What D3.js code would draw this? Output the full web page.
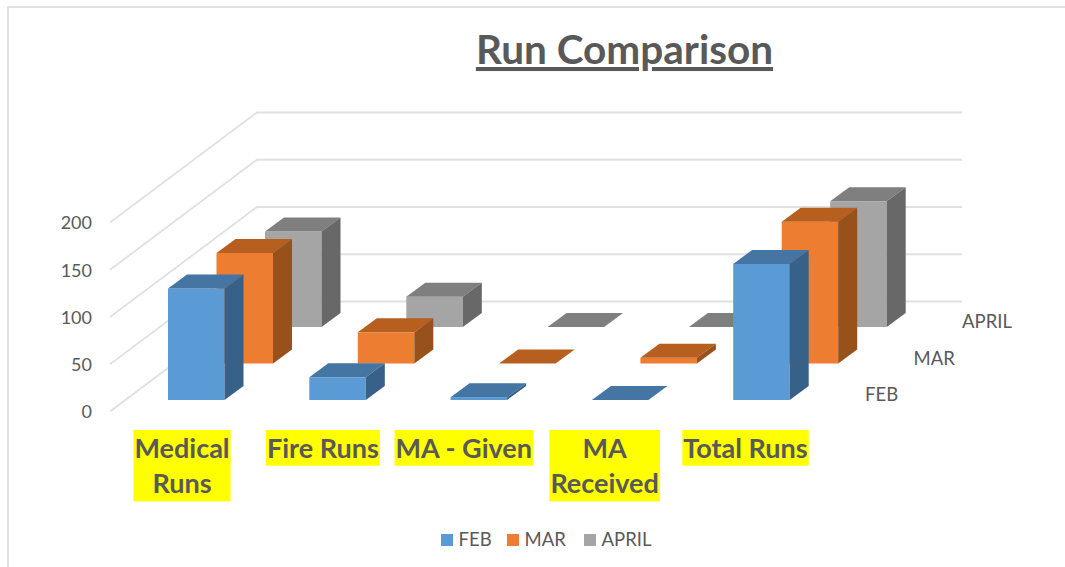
<!DOCTYPE html>
<html>
<head>
<meta charset="utf-8">
<script src="https://cdn.jsdelivr.net/npm/d3@7"></script>
<style>
body { margin: 0; background: #fff; }
text { font-family: Lato, "Open Sans", sans-serif; fill: #595959; }
</style>
</head>
<body>
<script>
var categories = ["Medical Runs", "Fire Runs", "MA - Given", "MA Received", "Total Runs"]
var categoryLines = [["Medical", "Runs"], ["Fire Runs"], ["MA - Given"], ["MA", "Received"], ["Total Runs"]]
var seriesNames = ["FEB", "MAR", "APRIL"]
var feb = [118, 24, 3, 0, 144]
var mar = [117, 33, 0, 6, 150]
var april = [101, 32, 0, 0, 133]
var yTicks = [0, 50, 100, 150, 200]
var title = "Run Comparison"

var width = 1065
var height = 567

var values = [feb, mar, april]
var front = ["#5b9bd5", "#ed7d31", "#a5a5a5"]
var topFace = ["#4475a3", "#b75f1f", "#7f7f7f"]
var sideFace = ["#38618a", "#98511a", "#686868"]

var svg = d3.select("body")
    .append("svg")
        .attr("width", width)
        .attr("height", height)

// chart frame
svg.append("path")
    .attr("d", "M8,567V7H1065")
    .attr("fill", "none")
    .attr("stroke", "#e0e0e0")
    .attr("stroke-width", 2)

var x = d3.scaleBand()
    .domain(categories)
    .range([168, 168 + 141.3 * 5])
    .paddingInner(0)

var labelX = d3.scalePoint()
    .domain(categories)
    .range([182, 745.5])

var y = d3.scaleLinear()
    .domain([0, 200])
    .range([411.5, 222.5])

// how far back each series sits, 0 = front row
var depth = d3.scalePoint()
    .domain(seriesNames)
    .range([0, 1])

var rowDx = 97, rowDy = -73
var barW = 56.5
var sideDx = 19, sideDy = -14
var baseDrop = 11.5

// side wall and back wall gridlines
var wallDx = 147, wallDy = -110
svg.append("g")
    .selectAll("path")
    .data(yTicks)
    .enter()
    .append("path")
        .attr("d", function(d) {
            var x0 = 110, x1 = x0 + wallDx
            return "M" + x0 + "," + y(d) + "L" + x1 + "," + (y(d) + wallDy) + "H962"
        })
        .attr("fill", "none")
        .attr("stroke", "#e0e0e0")
        .attr("stroke-width", 1.8)

// back row first so the front rows cover it
var rows = seriesNames.map(function(name, i) { return i }).reverse()
rows.forEach(function(s) {
    var name = seriesNames[s]
    var g = svg.append("g")
    var bars = g.selectAll("g")
        .data(categories)
        .enter()
        .append("g")

    var left = function(d) { return x(d) + rowDx * depth(name) }
    var base = function() { return y(0) - baseDrop + rowDy * depth(name) }
    var top = function(d, i) { return y(values[s][i]) - baseDrop + rowDy * depth(name) }

    bars.append("rect")
        .attr("x", left)
        .attr("y", top)
        .attr("width", barW)
        .attr("height", function(d, i) { return base() - top(d, i) })
        .attr("fill", front[s])

    bars.append("path")
        .attr("fill", topFace[s])
        .attr("d", function(d, i) {
            var l = left(d), t = top(d, i)
            return "M" + l + "," + t + "l" + sideDx + "," + sideDy + "h" + barW + "l" + (-sideDx) + "," + (-sideDy) + "z"
        })

    bars.append("path")
        .attr("fill", sideFace[s])
        .attr("d", function(d, i) {
            var r = left(d) + barW, t = top(d, i)
            return "M" + r + "," + t + "l" + sideDx + "," + sideDy + "V" + (base() + sideDy) + "L" + r + "," + base() + "z"
        })
})

// value axis
var yAxis = svg.append("g")
    .attr("transform", "translate(95,0.5)")
    .call(d3.axisLeft(y).tickValues(yTicks).tickSize(0).tickPadding(3))
yAxis.select(".domain").remove()
yAxis.selectAll("text")
    .style("font-family", "Lato")
    .style("font-size", "18px")
    .attr("fill", "#595959")

// series names on the depth axis
svg.append("g")
    .selectAll("text")
    .data(seriesNames)
    .enter()
    .append("text")
        .text(function(d) { return d })
        .attr("x", function(d) { return 865 + rowDx * depth(d) })
        .attr("y", function(d) { return 401 + rowDy * depth(d) })
        .style("font-size", "18.5px")

// category labels with the yellow highlight behind them
var lineH = 35.7
var labels = svg.append("g")
    .selectAll("g")
    .data(categories)
    .enter()
    .append("g")
        .attr("transform", function(d) { return "translate(" + labelX(d) + ",430)" })

labels.each(function(d, i) {
    var g = d3.select(this)
    categoryLines[i].forEach(function(line, k) {
        g.append("text")
            .text(line)
            .attr("y", k * lineH + 27.5)
            .attr("text-anchor", "middle")
            .style("font-size", "27px")
            .style("font-weight", 700)
    })
    var w = d3.max(g.selectAll("text").nodes(), function(n) { return n.getComputedTextLength() }) + 2
    g.insert("rect", "text")
        .attr("x", -w / 2)
        .attr("y", 0)
        .attr("width", w)
        .attr("height", categoryLines[i].length * lineH)
        .attr("fill", "#ffff00")
})

// title
svg.append("text")
    .text(title)
    .attr("x", 624.5)
    .attr("y", 64)
    .attr("text-anchor", "middle")
    .style("font-size", "40.5px")
    .style("font-weight", 700)
    .style("text-decoration", "underline")

// legend
var legendX = d3.scaleOrdinal()
    .domain(seriesNames)
    .range([441, 507, 584])

var legend = svg.append("g")
    .selectAll("g")
    .data(seriesNames)
    .enter()
    .append("g")
        .attr("transform", function(d) { return "translate(" + legendX(d) + ",534)" })

legend.append("rect")
    .attr("width", 12)
    .attr("height", 12)
    .attr("fill", function(d, i) { return front[i] })

legend.append("text")
    .text(function(d) { return d })
    .attr("x", 17.5)
    .attr("y", 12)
    .style("font-size", "18.5px")
</script>
</body>
</html>
